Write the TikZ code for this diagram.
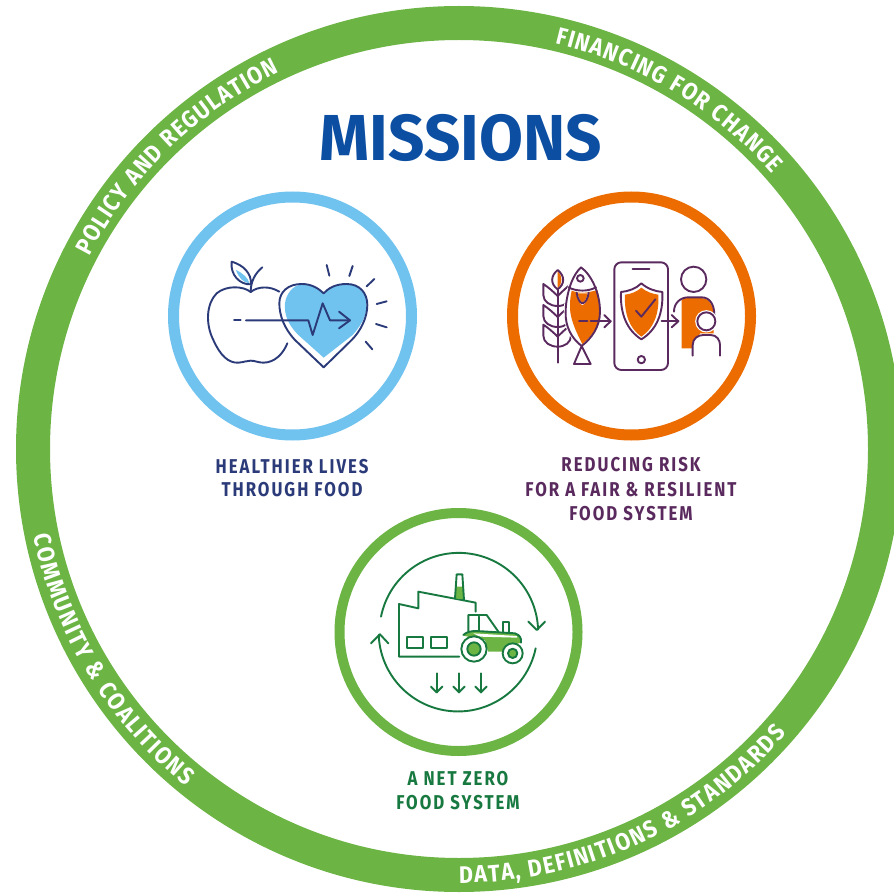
\documentclass[tikz,border=0pt]{standalone}
\usepackage{fontspec}
\usetikzlibrary{decorations.text}
\newfontfamily\ringfont[FakeStretch=0.9]{Fira Sans}
\newfontfamily\labfont[FakeStretch=0.84,LetterSpace=10]{Fira Sans}
\newfontfamily\titlefont[FakeStretch=0.98]{Fira Sans}
\definecolor{ringgreen}{HTML}{6CB544}
\definecolor{skyblue}{HTML}{71C3EF}
\definecolor{navy}{HTML}{2B3A78}
\definecolor{orng}{HTML}{EC6C00}
\definecolor{plum}{HTML}{5A2A5E}
\definecolor{dgreen}{HTML}{17793F}
\definecolor{titleblue}{HTML}{0B4EA2}
\tikzset{
  zoomed/.style 2 args={shift={(#1,#2)},x=0.33333pt,y=-0.33333pt},
  icon/.style={line width=1.9pt,line join=round,line cap=round},
  label/.style={font=\labfont\bfseries\fontsize{20}{23}\selectfont,align=center,inner sep=0pt,anchor=base},
  ringtext/.style={decorate,decoration={text along path,text color=white,text align=fit to path,text={#1}}}
}
\begin{document}
\begin{tikzpicture}[x=1pt,y=-1pt]
\useasboundingbox (0,0) rectangle (894,893);
\clip (0,0) rectangle (894,893);
\fill[white] (0,0) rectangle (894,893);
% outer ring
\draw[ringgreen,line width=34pt] (459,449) circle[radius=426];
\begin{scope}[shift={(459,449)},x=1pt,y=1pt]
\path[ringtext={|\ringfont\bfseries\fontsize{24}{24}\selectfont|POLICY AND REGULATION}] (152.5:417) arc[start angle=152.5,end angle=115.5,radius=417];
\path[ringtext={|\ringfont\bfseries\fontsize{24}{24}\selectfont|FINANCING FOR CHANGE}] (76.7:417) arc[start angle=76.7,end angle=41.3,radius=417];
\path[ringtext={|\ringfont\bfseries\fontsize{24}{24}\selectfont|COMMUNITY {\&} COALITIONS}] (191.5:434) arc[start angle=191.5,end angle=231,radius=434];
\path[ringtext={|\ringfont\bfseries\fontsize{24}{24}\selectfont|DATA, DEFINITIONS {\&} STANDARDS}] (270:434) arc[start angle=270,end angle=319,radius=434];
\end{scope}
% title
\node[font=\titlefont\bfseries\fontsize{65}{65}\selectfont,text=titleblue,inner sep=0pt,anchor=base] (title) at (461,161) {MISSIONS};
% mission circles
\draw[skyblue,line width=11pt] (292.5,316) circle[radius=119];
\draw[orng,line width=11pt] (631.5,316) circle[radius=119];
\draw[ringgreen,line width=10pt] (458.5,632) circle[radius=119];
% labels
\node[label,text=navy] (healthA) at (292,473) {HEALTHIER LIVES};
\node[label,text=navy] (healthB) at (292,496) {THROUGH FOOD};
\node[label,text=plum] (riskA) at (631,471) {REDUCING RISK};
\node[label,text=plum] (riskB) at (631,496) {FOR A FAIR \& RESILIENT};
\node[label,text=plum] (riskC) at (631,520) {FOOD SYSTEM};
\node[label,text=dgreen] (zeroA) at (458,785) {A NET ZERO};
\node[label,text=dgreen] (zeroB) at (458,809) {FOOD SYSTEM};
% health icon
\begin{scope}[zoomed={160}{190},icon,draw=navy]
\fill[skyblue] (491,503) -- (415,435) .. controls (385,405) and (372,375) .. (375,340) .. controls (378,312) and (400,284) .. (425,284) .. controls (455,284) and (475,297) .. (491,312) .. controls (505,297) and (525,284) .. (560,284) .. controls (600,284) and (620,310) .. (620,345) .. controls (620,380) and (600,410) .. (578,435) -- cycle;
\fill[skyblue] (228,240) .. controls (250,250) and (265,265) .. (268,280) .. controls (250,278) and (235,262) .. (228,240) -- cycle;
\draw (358,305) .. controls (330,288) and (295,288) .. (272,306) .. controls (250,288) and (200,285) .. (170,310) .. controls (140,340) and (135,400) .. (160,450) .. controls (180,495) and (205,520) .. (235,518) .. controls (250,517) and (260,512) .. (272,512) .. controls (285,512) and (295,518) .. (310,518) .. controls (345,518) and (370,490) .. (382,460);
\draw (272,306) .. controls (272,275) and (285,250) .. (307,232);
\draw (215,215) .. controls (250,225) and (275,250) .. (273,283) .. controls (240,285) and (210,255) .. (215,215) -- cycle;
\draw (491,532) -- (405,450) .. controls (372,415) and (358,375) .. (358,340) .. controls (358,305) and (385,282) .. (425,282) .. controls (455,282) and (475,295) .. (491,310) .. controls (505,295) and (525,282) .. (560,282) .. controls (600,282) and (622,310) .. (622,345) .. controls (622,385) and (600,425) .. (575,450) -- cycle;
\draw (222,391) -- (242,391);
\draw (258,391) -- (445,391) -- (458,435) -- (488,340) -- (510,391) -- (570,391);
\draw (537,365) -- (570,391) -- (537,415);
\draw (500,225) -- (508,257);
\draw (578,228) -- (568,258);
\draw (643,267) -- (620,289);
\draw (680,334) -- (650,342);
\draw (680,412) -- (648,402);
\draw (637,478) -- (617,455);
\end{scope}
% risk icon
\begin{scope}[zoomed={500}{190},icon,draw=plum]
% wheat
\draw (173,300) -- (173,518);
\fill[orng] (173,243) .. controls (188,255) and (188,282) .. (173,296) -- cycle;
\draw (173,240) .. controls (195,258) and (195,282) .. (173,298) .. controls (151,282) and (151,258) .. (173,240) -- cycle;
\foreach \dy in {0,63,122}{
  \draw (173,318+\dy) .. controls (160,305+\dy) and (145,292+\dy) .. (130,282+\dy) -- (130,315+\dy) .. controls (130,335+\dy) and (150,348+\dy) .. (173,348+\dy);
  \draw (173,318+\dy) .. controls (186,305+\dy) and (200,292+\dy) .. (213,282+\dy) -- (213,315+\dy) .. controls (213,335+\dy) and (195,348+\dy) .. (173,348+\dy);
}
% fish
\draw[white,line width=3.5pt,fill=white] (243,232) .. controls (275,255) and (300,310) .. (300,365) .. controls (300,410) and (275,445) .. (245,468) .. controls (215,445) and (195,410) .. (197,365) .. controls (197,310) and (215,255) .. (243,232) -- cycle;
\fill[orng] (215,302) .. controls (240,312) and (265,308) .. (292,300) .. controls (298,320) and (299,345) .. (299,365) .. controls (299,405) and (275,440) .. (247,462) .. controls (225,420) and (208,380) .. (210,345) .. controls (210,330) and (212,315) .. (215,302) -- cycle;
\fill[white] (228,308) .. controls (232,325) and (240,345) .. (247,345) .. controls (255,345) and (265,325) .. (268,308) -- cycle;
\fill[orng] (233,310) .. controls (236,325) and (242,337) .. (247,337) .. controls (253,337) and (260,325) .. (263,310) -- cycle;
\draw (243,232) .. controls (275,255) and (300,310) .. (300,365) .. controls (300,410) and (275,445) .. (245,468) .. controls (215,445) and (195,410) .. (197,365) .. controls (197,335) and (205,300) .. (215,275) .. controls (222,258) and (232,242) .. (243,232) -- cycle;
\draw (205,292) .. controls (230,305) and (265,305) .. (288,292);
\draw (230,308) .. controls (232,325) and (240,340) .. (247,340) .. controls (256,340) and (264,325) .. (266,308);
\draw[fill=white] (241,265) circle[radius=10];
\draw (245,468) -- (222,522) -- (272,522) -- cycle;
\draw (237,394) -- (262,394);
\draw (272,394) -- (332,394);
\draw (313,375) -- (332,394) -- (313,412);
% phone
\draw[rounded corners=7pt] (343,217) rectangle (504,540);
\draw (398,238) -- (448,238);
\draw (424,509) circle[radius=11];
\fill[orng] (424,293) .. controls (440,306) and (458,312) .. (475,314) .. controls (478,370) and (462,415) .. (424,440) .. controls (388,415) and (372,370) .. (375,314) .. controls (392,312) and (410,306) .. (424,293) -- cycle;
\draw (424,280) .. controls (442,296) and (465,304) .. (487,306) .. controls (490,370) and (470,420) .. (424,448) .. controls (380,420) and (360,370) .. (363,306) .. controls (385,304) and (408,296) .. (424,280) -- cycle;
\draw (408,362) -- (424,380) -- (466,328);
\draw (485,394) -- (535,394);
\draw (515,375) -- (535,394) -- (515,412);
% people
\draw (581,268) circle[radius=38];
\fill[orng] (545,330) .. controls (555,324) and (560,324) .. (570,324) -- (605,324) .. controls (625,324) and (641,345) .. (641,375) -- (641,430) -- (600,430) -- (575,475) -- (545,475) -- cycle;
\draw (522,365) .. controls (522,340) and (540,322) .. (565,322) -- (605,322) .. controls (630,322) and (643,345) .. (643,375);
\draw[fill=white] (578,497) -- (578,465) .. controls (578,445) and (595,435) .. (610,435) -- (632,435) .. controls (650,435) and (660,450) .. (660,465) -- (660,497);
\draw[white,line width=3pt,fill=white] (619,394) circle[radius=29];
\draw (619,394) circle[radius=27];
\end{scope}
% net zero icon
\begin{scope}[zoomed={330}{505},icon,draw=dgreen]
\draw (153,335) arc[start angle=191.3,end angle=358,radius=238];
\draw (595,350) -- (620,375) -- (645,350);
\draw (617,430) arc[start angle=11.8,end angle=178,radius=238];
\draw (123,415) -- (150,388) -- (175,415);
\draw (388,455) -- (207,455) -- (207,297) -- (265,310) -- (265,260) -- (437,293) -- (437,320);
\fill[ringgreen] (378,245) -- (399,245) -- (402,283) -- (375,280) -- cycle;
\draw (375,280) -- (380,208) -- (397,208) -- (402,285);
\draw (232,397) rectangle (280,428);
\draw (303,397) rectangle (350,428);
\draw (415,380) -- (415,330) -- (470,330) -- (505,380);
\draw (447,335) -- (447,377);
\draw (520,385) -- (520,350) -- (537,350) -- (537,385);
\fill[ringgreen] (400,392) .. controls (410,380) and (425,378) .. (440,378) -- (555,385) .. controls (570,390) and (575,400) .. (573,413) -- (530,425) -- (515,440) -- (475,440) -- (465,405) -- (400,392) -- cycle;
\fill[white] (430,385) -- (560,393) -- (562,398) -- (450,395) -- cycle;
\draw (400,390) .. controls (410,380) and (425,378) .. (440,378) -- (555,385) .. controls (570,390) and (575,400) .. (573,413);
\draw[fill=white] (432,432) circle[radius=38];
\fill[ringgreen] (432,432) circle[radius=20];
\draw (432,432) circle[radius=20];
\draw[fill=white] (548,445) circle[radius=30];
\fill[ringgreen] (548,445) circle[radius=14];
\draw (548,445) circle[radius=14];
\foreach \ax in {320,387,453}{
  \draw (\ax,505) -- (\ax,562);
  \draw (\ax-17,545) -- (\ax,562) -- (\ax+17,545);
}
\end{scope}
\end{tikzpicture}
\end{document}
